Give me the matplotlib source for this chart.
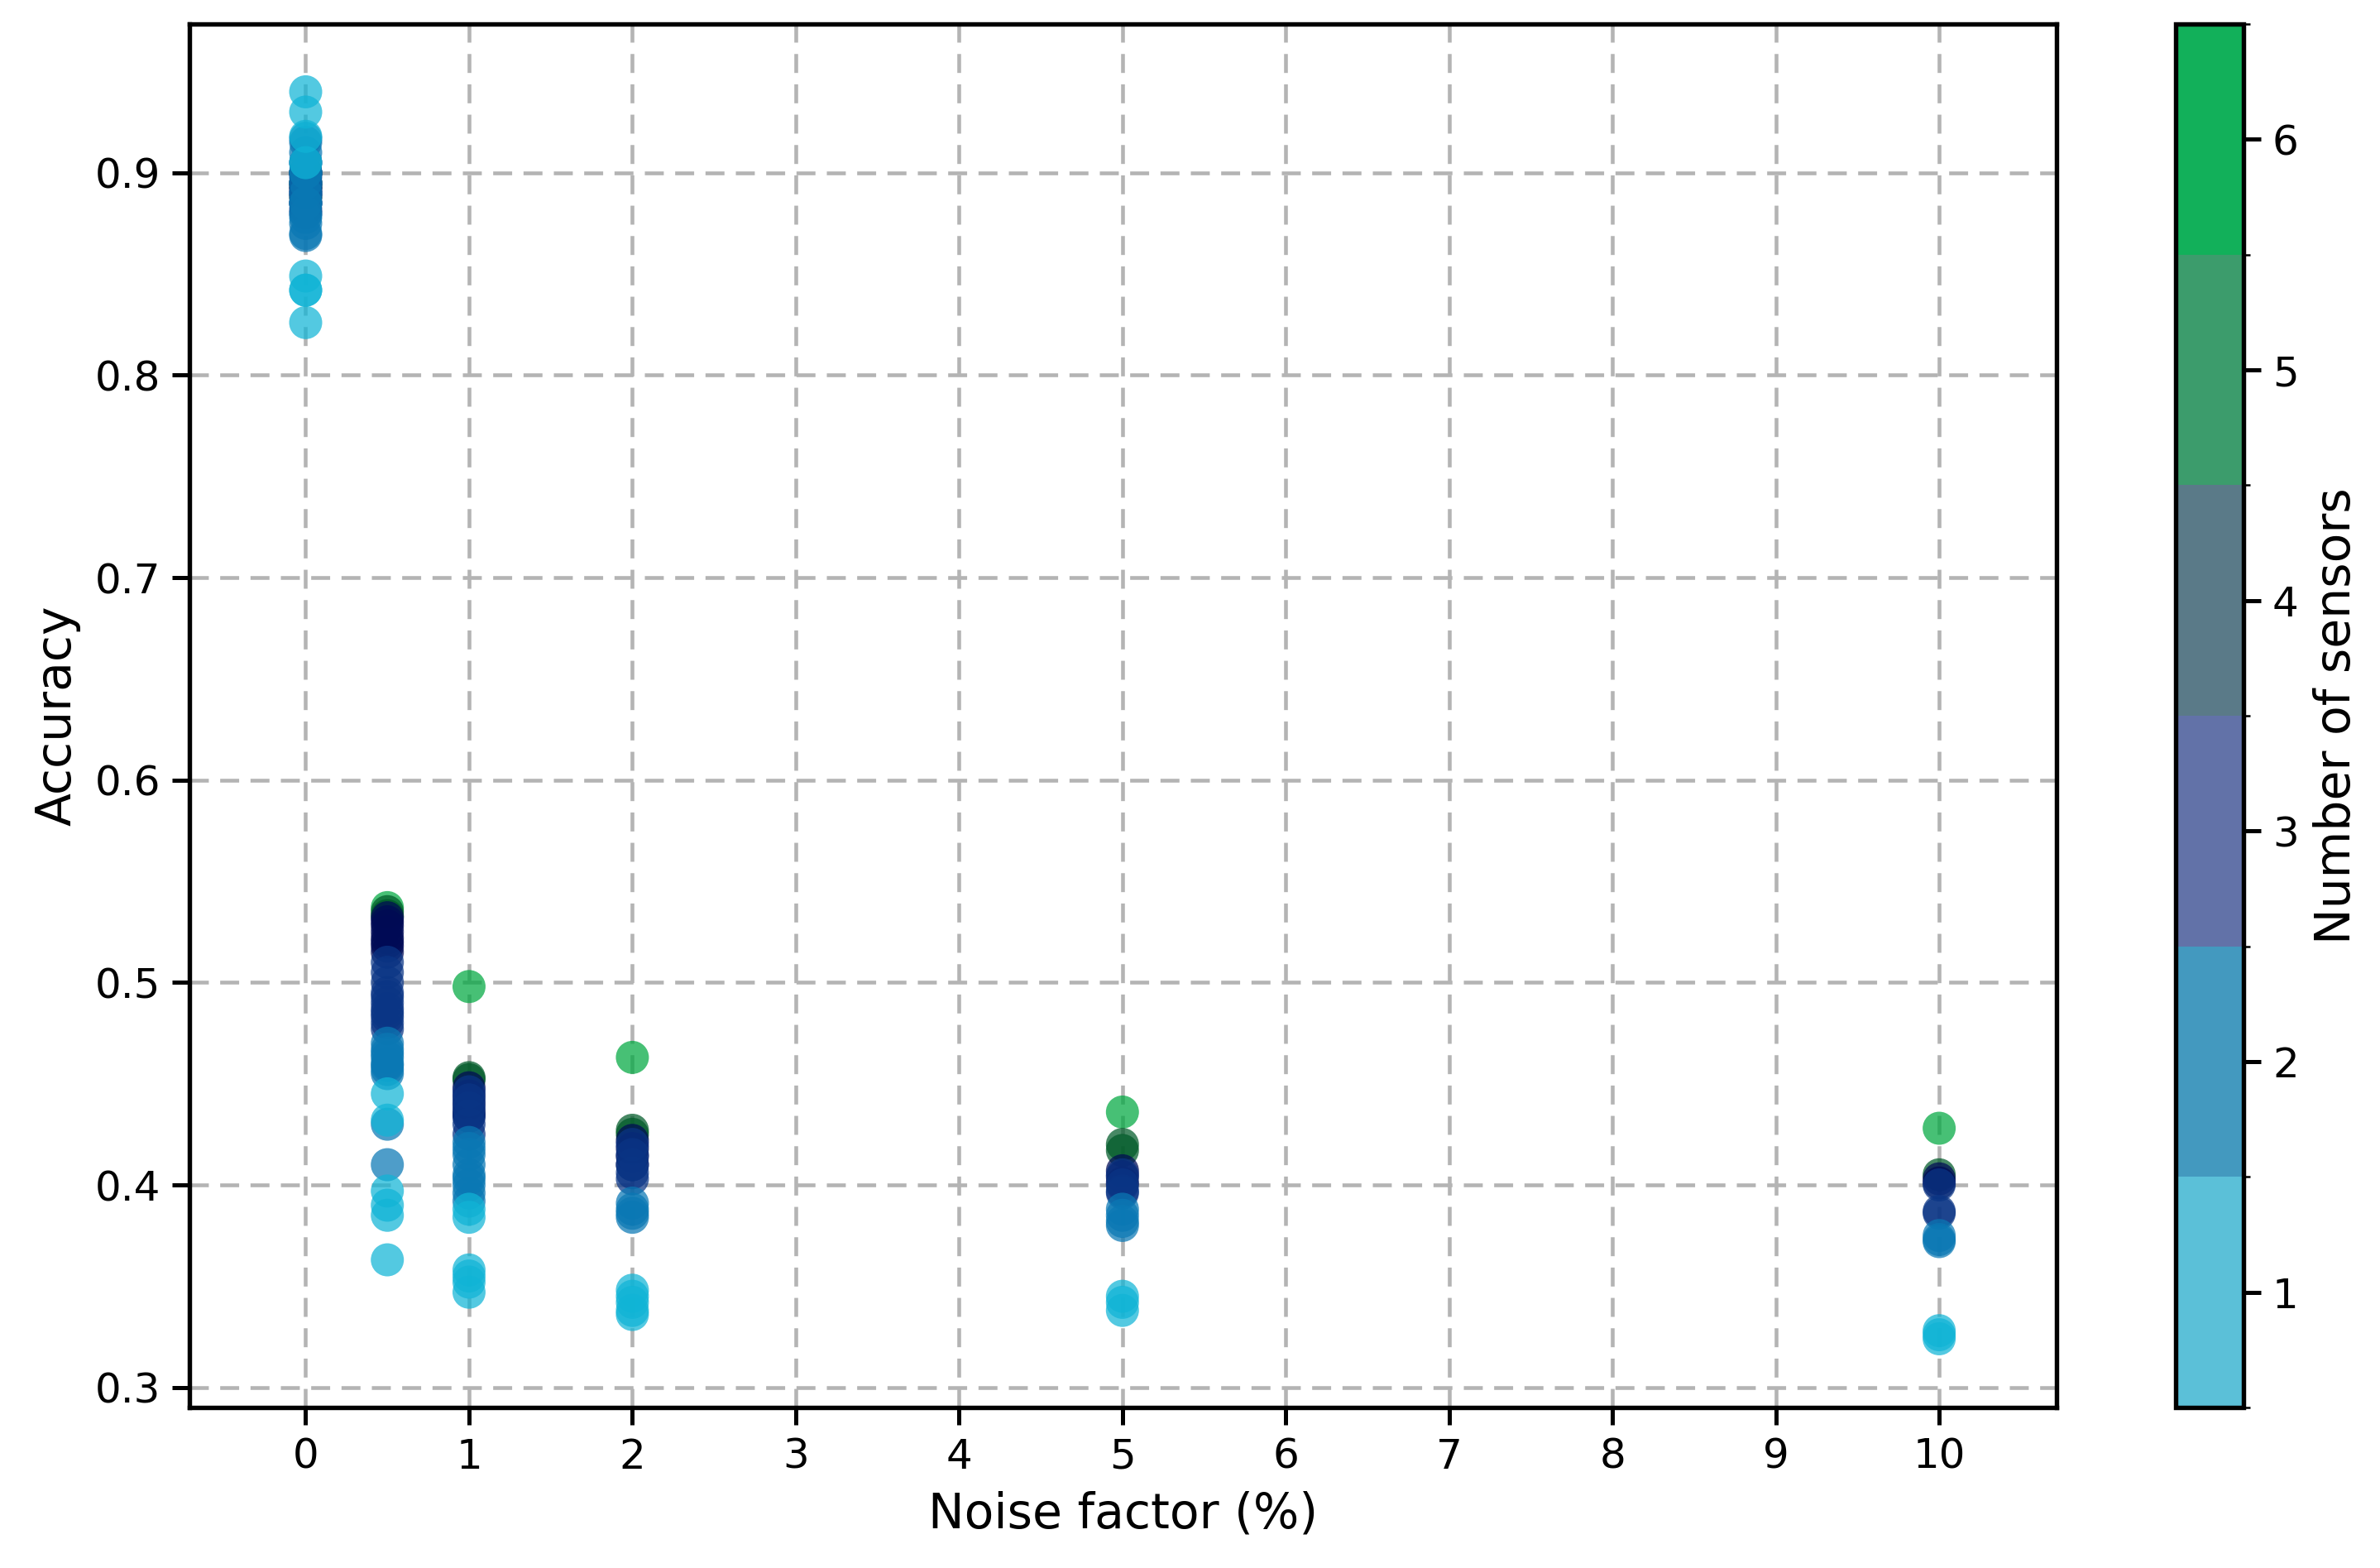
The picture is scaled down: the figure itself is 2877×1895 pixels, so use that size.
import numpy as np
import matplotlib
matplotlib.use("Agg")
import matplotlib.pyplot as plt
from matplotlib.colors import ListedColormap, BoundaryNorm
from matplotlib.cm import ScalarMappable

# ---- data ----
noise_levels = [0, 0.5, 1, 2, 5, 10]
sensor_counts = [1, 2, 3, 4, 5, 6]

acc_s1 = [
    [0.940, 0.930, 0.918, 0.905, 0.849, 0.842, 0.842, 0.826],
    [0.445, 0.432, 0.397, 0.390, 0.385, 0.363],
    [0.388, 0.384, 0.358, 0.355, 0.352, 0.347],
    [0.348, 0.345, 0.342, 0.338, 0.336],
    [0.345, 0.342, 0.338],
    [0.328, 0.326, 0.324],
]
acc_s2 = [
    [0.917, 0.910, 0.905, 0.900, 0.895, 0.890, 0.885, 0.880, 0.875, 0.870, 0.869, 0.915, 0.900, 0.885, 0.878],
    [0.470, 0.467, 0.463, 0.460, 0.457, 0.455, 0.430, 0.410, 0.465, 0.459],
    [0.421, 0.415, 0.410, 0.405, 0.400, 0.396, 0.392, 0.418, 0.403],
    [0.391, 0.388, 0.386, 0.384],
    [0.388, 0.385, 0.382, 0.380],
    [0.375, 0.373, 0.372],
]
acc_s3 = [
    [0.905, 0.900, 0.895, 0.890, 0.885, 0.882, 0.880, 0.888, 0.898, 0.893],
    [0.510, 0.500, 0.495, 0.490, 0.487, 0.483, 0.480, 0.477, 0.505, 0.493, 0.485],
    [0.446, 0.442, 0.438, 0.434, 0.430, 0.425],
    [0.420, 0.415, 0.410, 0.406, 0.403],
    [0.405, 0.400, 0.397, 0.396],
    [0.400, 0.387, 0.386],
]
acc_s4 = [
    [0.895, 0.890, 0.885, 0.900, 0.892],
    [0.532, 0.528, 0.525, 0.522, 0.518, 0.515, 0.530, 0.520],
    [0.448, 0.444, 0.440, 0.436, 0.434],
    [0.422, 0.418, 0.414, 0.410],
    [0.407, 0.404, 0.401],
    [0.403, 0.401],
]
acc_s5 = [
    [0.893, 0.888, 0.900],
    [0.535, 0.533],
    [0.453, 0.452],
    [0.427, 0.425],
    [0.420, 0.417],
    [0.405],
]
acc_s6 = [
    [0.895],
    [0.537],
    [0.498],
    [0.463],
    [0.436],
    [0.428],
]

point_colors = ['#10b4d6', '#0a78b4', '#0a3585', '#000a55', '#005a28', '#00a840']
colorbar_colors = ['#5bc0d8', '#4399bf', '#6272a8', '#5a7a88', '#3c9c6c', '#12b05a']

# ---- figure ----
W, H, DPI = 2877, 1895, 300
fig = plt.figure(figsize=(W / DPI, H / DPI), dpi=DPI)
ax = fig.add_axes([0.0797, 0.1023, 0.7845, 0.8824])
cax = fig.add_axes([0.914, 0.1023, 0.0285, 0.8824])

bounds = np.arange(0.5, 7.0, 1.0)
norm = BoundaryNorm(bounds, 6)
pcmap = ListedColormap(point_colors)
ccmap = ListedColormap(colorbar_colors)

all_series = [acc_s1, acc_s2, acc_s3, acc_s4, acc_s5, acc_s6]
# draw higher sensor counts first so lower counts lie on top
for n_sens, series in sorted(zip(sensor_counts, all_series), key=lambda t: -t[0]):
    xs, ys = [], []
    for nl, vals in zip(noise_levels, series):
        xs.extend([nl] * len(vals))
        ys.extend(vals)
    ax.scatter(xs, ys, c=[n_sens] * len(xs), cmap=pcmap, norm=norm,
               s=92, alpha=0.72, linewidths=0, zorder=3)

ax.set_xlim(-0.71, 10.72)
ax.set_ylim(0.290, 0.9735)
ax.set_xticks(range(0, 11))
ax.set_yticks([0.3, 0.4, 0.5, 0.6, 0.7, 0.8, 0.9])
ax.tick_params(labelsize=12, length=5, width=1.2)
ax.grid(True, linestyle=(0, (5, 3)), color='#b4b4b4', linewidth=1.1, zorder=0)
ax.set_axisbelow(True)
for sp in ax.spines.values():
    sp.set_linewidth(1.3)
ax.set_xlabel('Noise factor (%)', fontsize=14)
ax.set_ylabel('Accuracy', fontsize=14)

sm = ScalarMappable(norm=norm, cmap=ccmap)
cb = fig.colorbar(sm, cax=cax, ticks=sensor_counts)
cb.ax.tick_params(labelsize=12, length=5, width=1.2)
cb.set_label('Number of sensors', fontsize=14, labelpad=4)
cb.outline.set_linewidth(1.3)

fig.savefig('out.png', dpi=DPI)
